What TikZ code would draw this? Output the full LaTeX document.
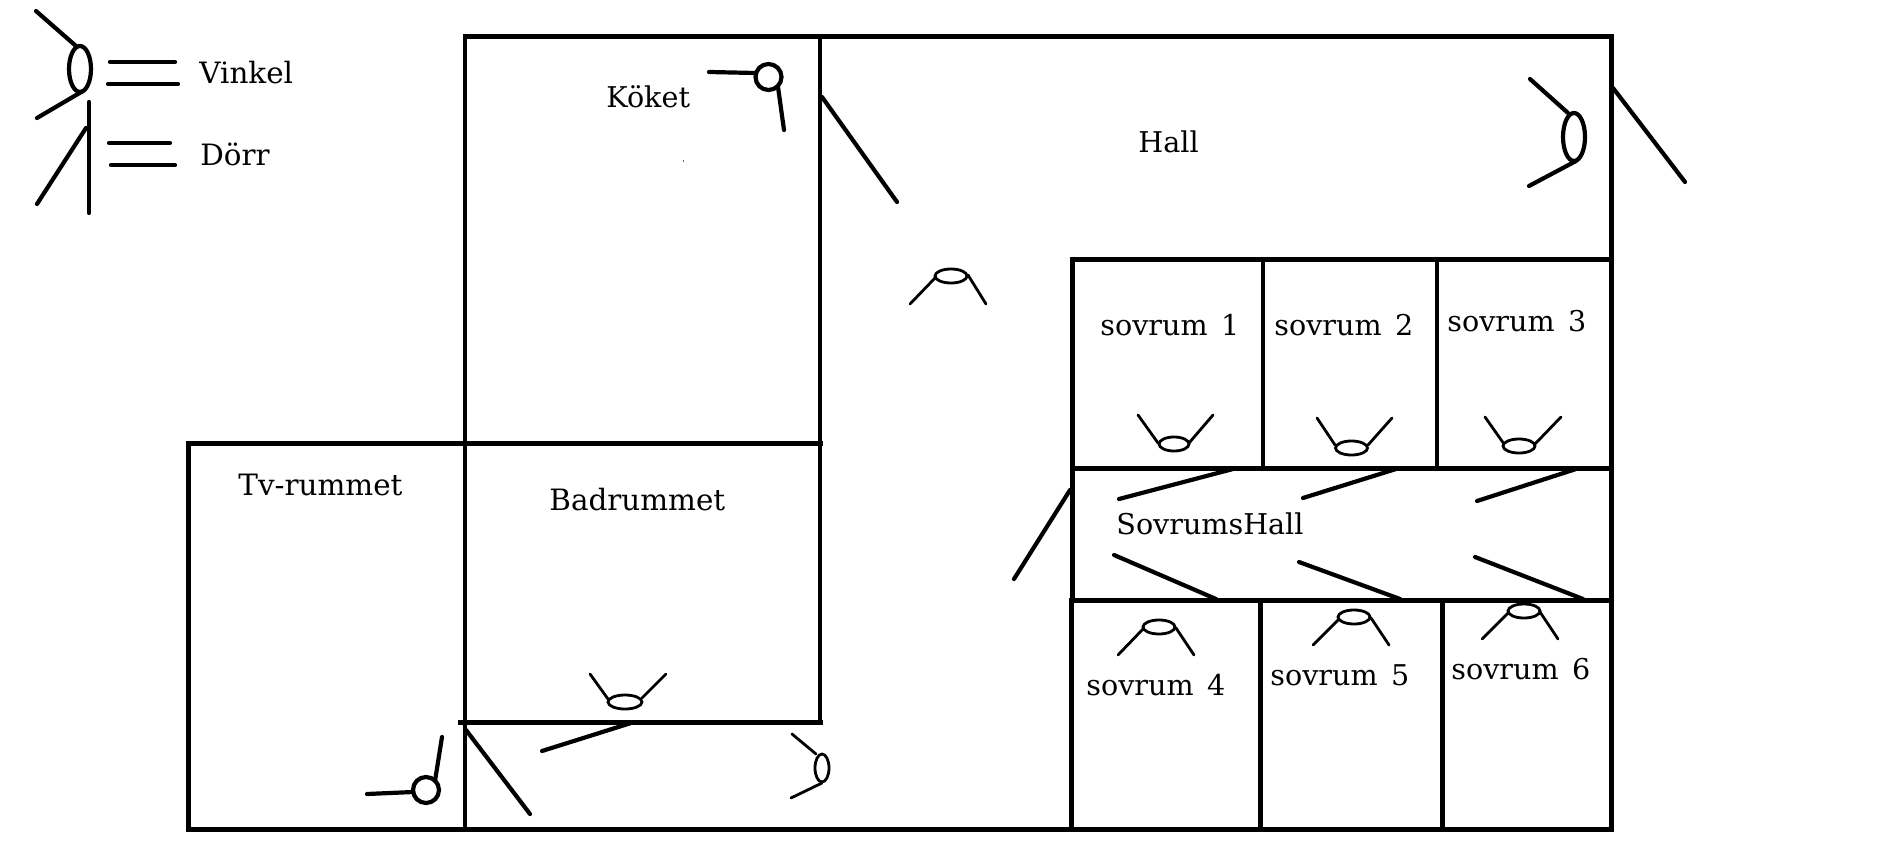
\documentclass[tikz,border=0pt]{standalone}
\usepackage{fontspec}
\setmainfont{DejaVu Serif}
\newcommand{\numgap}{\hspace{2.2pt}}
\tikzset{
  wall/.style={line width=2.5pt,line cap=rect},
  thinwall/.style={line width=2.4pt,line cap=butt},
  doorline/.style={line width=2.1pt,line cap=round},
  eyeline/.style={line width=1.4pt,line cap=round},
  eyebold/.style={line width=2.1pt,line cap=round},
  roomlabel/.style={anchor=base west,inner sep=0pt,font=\fontsize{14.3}{17}\selectfont},
  widelabel/.style={anchor=base west,inner sep=0pt,font=\fontsize{14.7}{17}\selectfont},
}
\begin{document}
\begin{tikzpicture}[x=0.5pt,y=-0.5pt]
\useasboundingbox (0,0) rectangle (1894,861);
% walls
\draw[wall] (465,36.5) -- (1611,36.5) -- (1611,829) -- (188,829) -- (188,443) -- (820,443);
\draw[thinwall] (465,36) -- (465,829);
\draw[thinwall] (820,36) -- (820,722);
\draw[wall] (460,722) -- (820,722);
\draw[wall] (1072,260) -- (1611,260);
\draw[wall] (1072,468) -- (1611,468);
\draw[wall] (1071,600) -- (1611,600);
\draw[wall] (1072,260) -- (1072,600);
\draw[wall] (1071,600) -- (1071,829);
\draw[thinwall] (1263,260) -- (1263,468);
\draw[thinwall] (1437,260) -- (1437,468);
\draw[wall] (1260,600) -- (1260,829);
\draw[wall] (1442,600) -- (1442,829);
% doors
\draw[doorline] (822,97) -- (897,202);
\draw[doorline] (1613,88) -- (1685,182);
\draw[doorline] (466,730) -- (530,814);
\draw[doorline] (542,751) -- (631,723);
\draw[doorline] (1070,490) -- (1014,579);
\draw[doorline] (1119,499) -- (1233,469);
\draw[doorline] (1303,498) -- (1396,469);
\draw[doorline] (1477,501) -- (1576,469);
\draw[doorline] (1114,555) -- (1216,599);
\draw[doorline] (1299,562) -- (1400,599);
\draw[doorline] (1475,557) -- (1583,599);
% legend
\draw[eyebold] (80,69) ellipse [x radius=11,y radius=23];
\draw[eyebold] (36,11) -- (76,46);
\draw[eyebold] (37,118) -- (83,91);
\draw[doorline] (110,62) -- (175,62);
\draw[doorline] (108,84) -- (178,84);
\draw[doorline] (89,102) -- (89,213);
\draw[doorline] (86,128) -- (37,204);
\draw[doorline] (109,143) -- (170,143);
\draw[doorline] (111,165) -- (175,165);
% kitchen viewer
\draw[eyebold] (768.5,77) circle [radius=13];
\draw[eyebold] (709,72) -- (755,73);
\draw[eyebold] (778,87) -- (784,130);
\fill[black!60] (682.5,160.5) rectangle (684,162);
% tv viewer
\draw[eyebold] (426,790) circle [radius=13];
\draw[eyebold] (367,794) -- (413,792);
\draw[eyebold] (435,781) -- (442,737);
% hall eyes
\draw[eyebold] (1574,137) ellipse [x radius=11,y radius=24];
\draw[eyebold] (1530,79) -- (1568,113);
\draw[eyebold] (1529,186) -- (1576,161);
\draw[eyeline] (951,276) ellipse [x radius=16,y radius=7];
\draw[eyeline] (936,277) -- (910,304);
\draw[eyeline] (968,275) -- (986,304);
% bath eye
\draw[eyeline] (625,702) ellipse [x radius=17,y radius=7];
\draw[eyeline] (608,699) -- (590,674);
\draw[eyeline] (642,698) -- (666,674);
% right-of-bath eye
\draw[eyeline] (822,768) ellipse [x radius=7,y radius=14];
\draw[eyeline] (816,754) -- (792,734);
\draw[eyeline] (822,783) -- (791,798);
% upper bedrooms
\draw[eyeline] (1174,444) ellipse [x radius=15,y radius=7];
\draw[eyeline] (1138,415) -- (1158,443);
\draw[eyeline] (1213,415) -- (1189,443);
\draw[eyeline] (1351.5,448) ellipse [x radius=16,y radius=7];
\draw[eyeline] (1317,418) -- (1335,445);
\draw[eyeline] (1392,418) -- (1368,445);
\draw[eyeline] (1519,446) ellipse [x radius=16,y radius=7];
\draw[eyeline] (1485,417) -- (1504,444);
\draw[eyeline] (1561,417) -- (1535,444);
% lower bedrooms
\draw[eyeline] (1159,627) ellipse [x radius=16,y radius=7];
\draw[eyeline] (1143,629) -- (1118,655);
\draw[eyeline] (1176,628) -- (1194,655);
\draw[eyeline] (1354,617) ellipse [x radius=16,y radius=7];
\draw[eyeline] (1339,619) -- (1313,645);
\draw[eyeline] (1371,618) -- (1389,645);
\draw[eyeline] (1524,611) ellipse [x radius=16,y radius=7];
\draw[eyeline] (1508,613) -- (1482,639);
\draw[eyeline] (1540,612) -- (1558,639);
% labels
\node[widelabel] (vinkel) at (199,84) {Vinkel};
\node[widelabel] (dorr) at (200,166) {Dörr};
\node[roomlabel] (koket) at (606,108) {Köket};
\node[roomlabel] (hall) at (1138,153) {Hall};
\node[widelabel] (tv) at (238,495) {Tv-rummet};
\node[widelabel] (bad) at (549,510) {Badrummet};
\node[roomlabel] (s1) at (1100,335) {sovrum\numgap{} 1};
\node[roomlabel] (s2) at (1274,335) {sovrum\numgap{} 2};
\node[roomlabel] (s3) at (1447,331) {sovrum\numgap{} 3};
\node[roomlabel] (sh) at (1116,534) {SovrumsHall};
\node[roomlabel] (s4) at (1086,695) {sovrum\numgap{} 4};
\node[roomlabel] (s5) at (1270,685) {sovrum\numgap{} 5};
\node[roomlabel] (s6) at (1451,679) {sovrum\numgap{} 6};
\end{tikzpicture}
\end{document}
